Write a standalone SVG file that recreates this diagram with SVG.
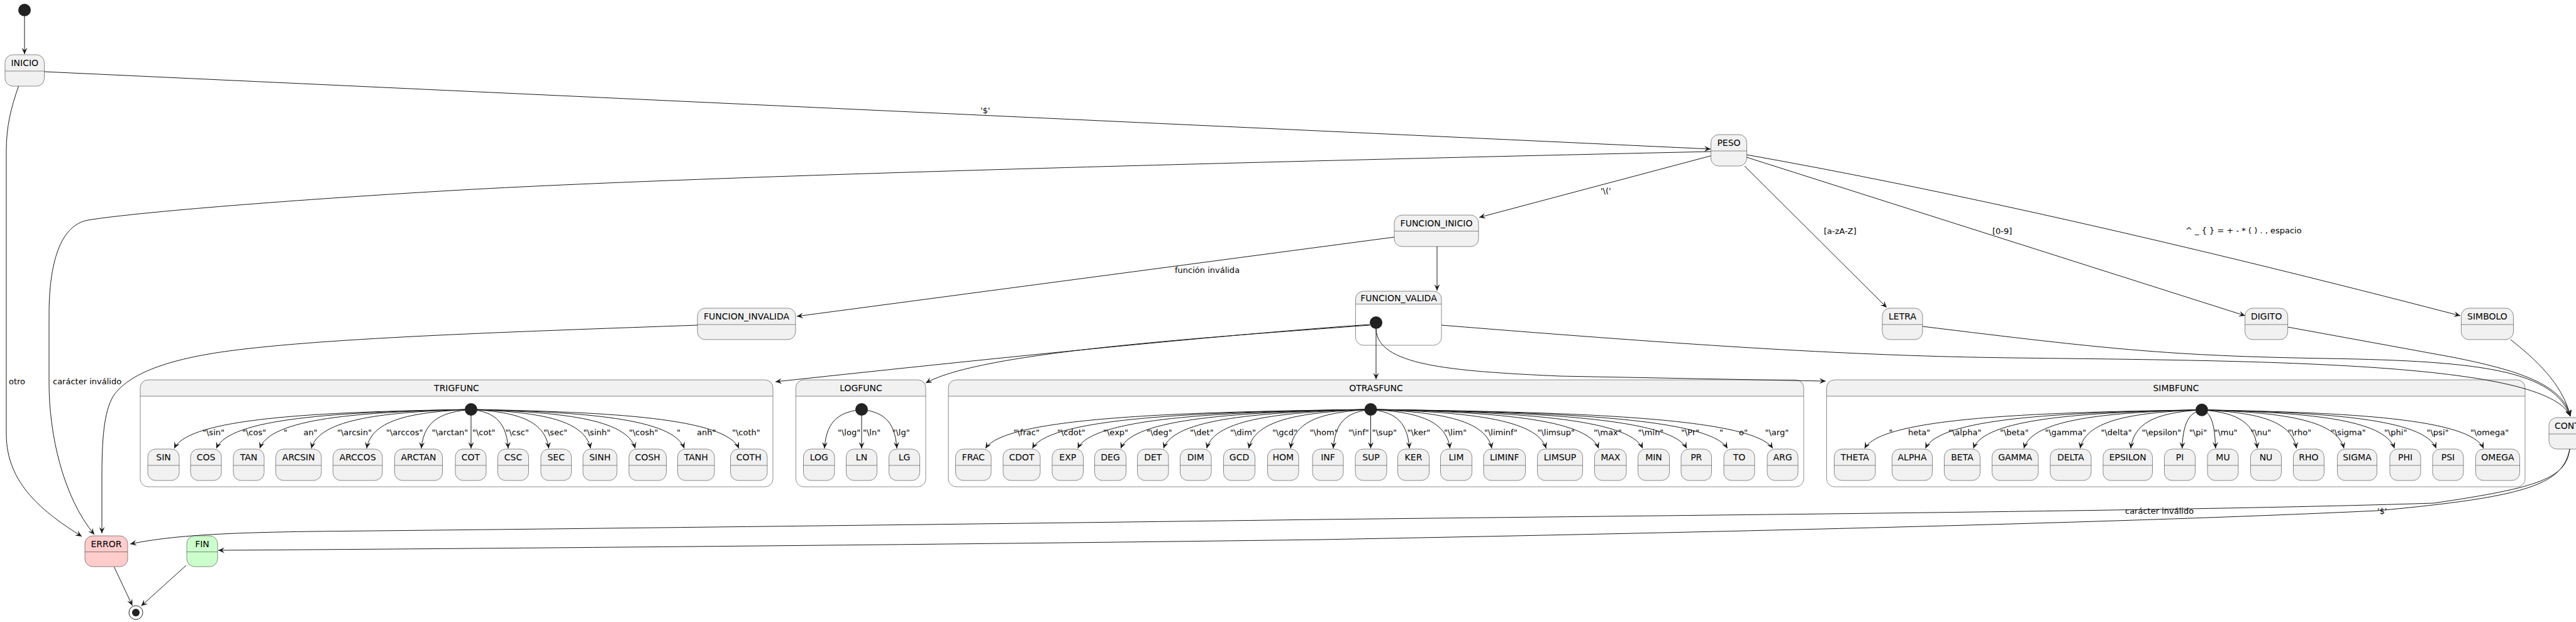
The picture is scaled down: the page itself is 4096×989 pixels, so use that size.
<svg xmlns="http://www.w3.org/2000/svg" width="4096" height="989" viewBox="0 0 4096 989">
<defs>
<style>
.st{fill:#F1F1F1;stroke:#181818;stroke-width:0.5}
.err{fill:#FFCCCC;stroke:#181818;stroke-width:0.5}
.fin{fill:#CCFFCC;stroke:#181818;stroke-width:0.5}
.sep{stroke:#181818;stroke-width:0.5;fill:none}
.cbody{fill:#FFFFFF;stroke:none}
.chdr{fill:#F1F1F1;stroke:none}
.cout{fill:none;stroke:#181818;stroke-width:0.5}
.nm{font-family:"DejaVu Sans",sans-serif;font-size:14px;text-anchor:middle;fill:#000000}
.lb{font-family:"DejaVu Sans",sans-serif;font-size:13px;fill:#000000}
.e{fill:none;stroke:#181818;stroke-width:1;marker-end:url(#ah)}
.dot{fill:#222222;stroke:none}
</style>
<marker id="ah" viewBox="0 0 10 10" refX="10" refY="5" markerWidth="10" markerHeight="10" markerUnits="userSpaceOnUse" orient="auto">
<path d="M0,0.5 L10,5 L0,9.5 L4,5 Z" fill="#181818"/>
</marker>
<clipPath id="clipCanvas"><rect x="0" y="0" width="4096" height="989"/></clipPath>
</defs>
<rect x="0" y="0" width="4096" height="989" fill="#FFFFFF"/>

<!-- composite containers -->
<g id="n-trigfunc">
<rect class="cbody" x="223" y="604" width="1006" height="170" rx="12.5"/>
<path class="chdr" d="M223,630 V616.5 Q223,604 235.5,604 H1216.5 Q1229,604 1229,616.5 V630 Z"/>
<line class="sep" x1="223" y1="630" x2="1229" y2="630"/>
<rect class="cout" x="223" y="604" width="1006" height="170" rx="12.5"/>
<text class="nm" x="726" y="622">TRIGFUNC</text>
</g>
<g id="n-logfunc">
<rect class="cbody" x="1265.5" y="604" width="206.5" height="170" rx="12.5"/>
<path class="chdr" d="M1265.5,630 V616.5 Q1265.5,604 1278,604 H1459.5 Q1472,604 1472,616.5 V630 Z"/>
<line class="sep" x1="1265.5" y1="630" x2="1472" y2="630"/>
<rect class="cout" x="1265.5" y="604" width="206.5" height="170" rx="12.5"/>
<text class="nm" x="1369" y="622">LOGFUNC</text>
</g>
<g id="n-otrasfunc">
<rect class="cbody" x="1508" y="604" width="1360" height="170" rx="12.5"/>
<path class="chdr" d="M1508,630 V616.5 Q1508,604 1520.5,604 H2855.5 Q2868,604 2868,616.5 V630 Z"/>
<line class="sep" x1="1508" y1="630" x2="2868" y2="630"/>
<rect class="cout" x="1508" y="604" width="1360" height="170" rx="12.5"/>
<text class="nm" x="2188" y="622">OTRASFUNC</text>
</g>
<g id="n-simbfunc">
<rect class="cbody" x="2904.5" y="604" width="1110.5" height="170" rx="12.5"/>
<path class="chdr" d="M2904.5,630 V616.5 Q2904.5,604 2917,604 H4002.5 Q4015,604 4015,616.5 V630 Z"/>
<line class="sep" x1="2904.5" y1="630" x2="4015" y2="630"/>
<rect class="cout" x="2904.5" y="604" width="1110.5" height="170" rx="12.5"/>
<text class="nm" x="3460" y="622">SIMBFUNC</text>
</g>
<g id="n-funcion-valida">
<rect class="cbody" x="2155.5" y="463" width="136.5" height="86" rx="12.5"/>
<path class="chdr" d="M2155.5,483.5 V475.5 Q2155.5,463 2168,463 H2279.5 Q2292,463 2292,475.5 V483.5 Z"/>
<line class="sep" x1="2155.5" y1="483.5" x2="2292" y2="483.5"/>
<rect class="cout" x="2155.5" y="463" width="136.5" height="86" rx="12.5"/>
<text class="nm" x="2224" y="478.5">FUNCION_VALIDA</text>
</g>

<!-- connectors -->
<g id="connectors">
<path class="e" d="M39,26 L39,86"/>
<path class="e" d="M70.5,114 L2720,237"/>
<path class="e" d="M29.5,137 C18,170 10,200 10,240 L10,690 C10,770 70,815 130,853"/>
<path class="e" d="M2720,241 C2000,257 1100,280 700,304 C400,322 200,340 140,350 C95,358 78,420 78,500 L78,610 C78,690 100,790 150,850"/>
<path class="e" d="M2720.5,247.7 L2352,345.7"/>
<path class="e" d="M2774,264 L3000,489"/>
<path class="e" d="M2777,250 L3570,502"/>
<path class="e" d="M2777,246 Q3250,330 3912,502"/>
<path class="e" d="M2217,377 L1267,503"/>
<path class="e" d="M2285,392 L2285,462"/>
<path class="e" d="M1109,517 C800,528 500,538 350,560 C250,575 200,600 180,630 C165,655 162,700 162,760 L162,848"/>
<path class="e" d="M2178,516 Q1900,535 1233,607"/>
<path class="e" d="M2178,517 C1900,538 1560,560 1472,609"/>
<path class="e" d="M2188,523 L2188,603"/>
<path class="e" d="M2188,523 C2190,580 2300,590 2480,598 L2903,606"/>
<path class="e" d="M2292,517 C2700,550 2950,566 3200,569 C3600,574 4050,575 4087,662"/>
<path class="e" d="M3057,519 C3350,555 3450,566 3700,570 C3950,574 4060,590 4087,662"/>
<path class="e" d="M3637.5,520 L3900,568 C4000,588 4075,610 4087,662"/>
<path class="e" d="M3992,540 C4030,570 4075,610 4087,662"/>
<path class="e" d="M4086,714 C4080,760 4040,775 3870,800 C3500,812 2800,818 2100,826 C1500,834 800,842 500,845 C350,847 270,852 207,865"/>
<path class="e" d="M4086,714 C4075,770 4020,790 3780,812 C3400,830 2800,845 2100,858 C1500,866 800,872 347,875"/>
<path class="e" d="M181.6,901.7 L210.5,963"/>
<path class="e" d="M296,899 L224.5,963.5"/>
<!-- TRIGFUNC internal -->
<path class="e" d="M749,651 C498.8,655 300.6,665 277,713"/>
<path class="e" d="M749,651 C534.3,655 364.3,665 344,713"/>
<path class="e" d="M749,651 C570.9,655 429.8,665 413,713"/>
<path class="e" d="M749,651 C614.4,655 507.7,665 495,713"/>
<path class="e" d="M749,651 C661,655 591.3,665 583,713"/>
<path class="e" d="M749,651 C707.1,655 674,665 670,713"/>
<path class="e" d="M749,651 L749,713"/>
<path class="e" d="M749,651 C780.3,655 805,665 808,713"/>
<path class="e" d="M749,651 C814.5,655 866.3,665 872.5,713"/>
<path class="e" d="M749,651 C849.7,655 929.5,665 939,713"/>
<path class="e" d="M749,651 C887.3,655 997,665 1010,713"/>
<path class="e" d="M749,651 C928.7,655 1071,665 1088,713"/>
<path class="e" d="M749,651 C974.8,655 1153.7,665 1175,713"/>
<!-- LOGFUNC internal -->
<path class="e" d="M1370,651 C1338.7,655 1314,665 1311,713"/>
<path class="e" d="M1370,651 L1370,713"/>
<path class="e" d="M1370,651 C1399.7,655 1423.2,665 1426,713"/>
<!-- OTRASFUNC internal -->
<path class="e" d="M2179.5,651 C1854.9,655 1597.6,665 1567,713"/>
<path class="e" d="M2179.5,651 C1894.4,655 1668.4,665 1641.5,713"/>
<path class="e" d="M2179.5,651 C1932.6,655 1736.9,665 1713.6,713"/>
<path class="e" d="M2179.5,651 C1968.8,655 1801.9,665 1782,713"/>
<path class="e" d="M2179.5,651 C2004.9,655 1866.5,665 1850,713"/>
<path class="e" d="M2179.5,651 C2041.3,655 1931.7,665 1918.7,713"/>
<path class="e" d="M2179.5,651 C2076.7,655 1995.3,665 1985.6,713"/>
<path class="e" d="M2179.5,651 C2111.9,655 2058.4,665 2052,713"/>
<path class="e" d="M2179.5,651 C2148,655 2123,665 2120,713"/>
<path class="e" d="M2179.5,651 L2179.5,713"/>
<path class="e" d="M2179.5,651 C2212.1,655 2237.9,665 2241,713"/>
<path class="e" d="M2179.5,651 C2246.3,655 2299.3,665 2305.6,713"/>
<path class="e" d="M2179.5,651 C2281.5,655 2362.4,665 2372,713"/>
<path class="e" d="M2179.5,651 C2327.3,655 2444.5,665 2458.4,713"/>
<path class="e" d="M2179.5,651 C2371.6,655 2523.9,665 2542,713"/>
<path class="e" d="M2179.5,651 C2408.7,655 2590.4,665 2612,713"/>
<path class="e" d="M2179.5,651 C2445.8,655 2656.9,665 2682,713"/>
<path class="e" d="M2179.5,651 C2480.1,655 2718.3,665 2746.7,713"/>
<path class="e" d="M2179.5,651 C2518.3,655 2786.8,665 2818.8,713"/>
<!-- SIMBFUNC internal -->
<path class="e" d="M3501,651.7 C3216.8,655.7 2991.6,665.7 2964.8,713"/>
<path class="e" d="M3501,651.7 C3268.1,655.7 3083.5,665.7 3061.5,713"/>
<path class="e" d="M3501,651.7 C3308.4,655.7 3155.9,665.7 3137.7,713"/>
<path class="e" d="M3501,651.7 C3351,655.7 3232.2,665.7 3218,713"/>
<path class="e" d="M3501,651.7 C3398.4,655.7 3317.2,665.7 3307.5,713"/>
<path class="e" d="M3501,651.7 C3441.1,655.7 3393.7,665.7 3388,713"/>
<path class="e" d="M3501,651.7 C3484.4,655.7 3471.3,665.7 3469.7,713"/>
<path class="e" d="M3501,651.7 C3512.6,655.7 3521.7,665.7 3522.8,713"/>
<path class="e" d="M3501,651.7 C3547.7,655.7 3584.8,665.7 3589.2,713"/>
<path class="e" d="M3501,651.7 C3580.7,655.7 3643.9,665.7 3651.4,713"/>
<path class="e" d="M3501,651.7 C3620.8,655.7 3715.7,665.7 3727,713"/>
<path class="e" d="M3501,651.7 C3663.3,655.7 3792,665.7 3807.3,713"/>
<path class="e" d="M3501,651.7 C3698.5,655.7 3855.1,665.7 3873.7,713"/>
<path class="e" d="M3501,651.7 C3738.5,655.7 3926.8,665.7 3949.2,713"/>

<g id="edge-labels">
<text class="lb" x="1559" y="180">'$'</text>
<text class="lb" x="2545" y="308">'\('</text>
<text class="lb" x="1868" y="434">función inválida</text>
<text class="lb" x="2900" y="372">[a-zA-Z]</text>
<text class="lb" x="3168" y="372">[0-9]</text>
<text class="lb" x="3475" y="371">^ _ { } = + - * ( ) . , espacio</text>
<text class="lb" x="14" y="611">otro</text>
<text class="lb" x="84" y="611">carácter inválido</text>
<text class="lb" x="3379" y="817">carácter inválido</text>
<text class="lb" x="3780" y="817">'$'</text>
<text class="lb" x="322" y="692">"\sin"</text>
<text class="lb" x="385" y="692">"\cos"</text>
<text class="lb" x="451" y="692">"<tspan x="482.5">an"</tspan></text>
<text class="lb" x="536" y="692">"\arcsin"</text>
<text class="lb" x="614" y="692">"\arccos"</text>
<text class="lb" x="686.5" y="692">"\arctan"</text>
<text class="lb" x="751" y="692">"\cot"</text>
<text class="lb" x="803.5" y="692">"\csc"</text>
<text class="lb" x="864" y="692">"\sec"</text>
<text class="lb" x="927.5" y="692">"\sinh"</text>
<text class="lb" x="1000" y="692">"\cosh"</text>
<text class="lb" x="1076" y="692">"<tspan x="1108">anh"</tspan></text>
<text class="lb" x="1164" y="692">"\coth"</text>
<text class="lb" x="1332" y="692">"\log"</text>
<text class="lb" x="1372" y="692">"\ln"</text>
<text class="lb" x="1418.5" y="692">"\lg"</text>
<text class="lb" x="1611.5" y="692">"\frac"</text>
<text class="lb" x="1681" y="692">"\cdot"</text>
<text class="lb" x="1754" y="692">"\exp"</text>
<text class="lb" x="1823" y="692">"\deg"</text>
<text class="lb" x="1892" y="692">"\det"</text>
<text class="lb" x="1956" y="692">"\dim"</text>
<text class="lb" x="2023" y="692">"\gcd"</text>
<text class="lb" x="2082.5" y="692">"\hom"</text>
<text class="lb" x="2144" y="692">"\inf"</text>
<text class="lb" x="2181.5" y="692">"\sup"</text>
<text class="lb" x="2237.5" y="692">"\ker"</text>
<text class="lb" x="2296" y="692">"\lim"</text>
<text class="lb" x="2360" y="692">"\liminf"</text>
<text class="lb" x="2444.5" y="692">"\limsup"</text>
<text class="lb" x="2534" y="692">"\max"</text>
<text class="lb" x="2604.5" y="692">"\min"</text>
<text class="lb" x="2673" y="692">"\Pr"</text>
<text class="lb" x="2734" y="692">"<tspan x="2765">o"</tspan></text>
<text class="lb" x="2806.5" y="692">"\arg"</text>
<text class="lb" x="3003.5" y="692">"<tspan x="3034">heta"</tspan></text>
<text class="lb" x="3098" y="692">"\alpha"</text>
<text class="lb" x="3180" y="692">"\beta"</text>
<text class="lb" x="3251.5" y="692">"\gamma"</text>
<text class="lb" x="3340.5" y="692">"\delta"</text>
<text class="lb" x="3405.5" y="692">"\epsilon"</text>
<text class="lb" x="3481" y="692">"\pi"</text>
<text class="lb" x="3520.5" y="692">"\mu"</text>
<text class="lb" x="3578.5" y="692">"\nu"</text>
<text class="lb" x="3637.5" y="692">"\rho"</text>
<text class="lb" x="3706" y="692">"\sigma"</text>
<text class="lb" x="3791" y="692">"\phi"</text>
<text class="lb" x="3858.5" y="692">"\psi"</text>
<text class="lb" x="3928" y="692">"\omega"</text>
</g>
</g>

<!-- pseudo states -->
<g id="n-start"><circle class="dot" cx="39" cy="16" r="10"/></g>
<g id="n-fv-start"><circle class="dot" cx="2188" cy="513" r="10"/></g>
<g id="n-trig-start"><circle class="dot" cx="749" cy="651" r="10"/></g>
<g id="n-log-start"><circle class="dot" cx="1370" cy="651" r="10"/></g>
<g id="n-otras-start"><circle class="dot" cx="2179.5" cy="651" r="10"/></g>
<g id="n-simb-start"><circle class="dot" cx="3501" cy="651.7" r="10"/></g>
<g id="n-end"><circle cx="216" cy="974" r="11" fill="#FFFFFF" stroke="#222222" stroke-width="1"/><circle class="dot" cx="216" cy="974" r="6"/></g>

<!-- simple states -->
<g id="n-inicio"><rect class="st" x="8" y="87" width="62.5" height="50" rx="12.5"/><line class="sep" x1="8" y1="113" x2="70.5" y2="113"/><text class="nm" x="39.25" y="105">INICIO</text></g>
<g id="n-peso"><rect class="st" x="2720.5" y="214" width="57" height="50" rx="12.5"/><line class="sep" x1="2720.5" y1="240" x2="2777.5" y2="240"/><text class="nm" x="2749" y="232">PESO</text></g>
<g id="n-funcion-inicio"><rect class="st" x="2217" y="342" width="134" height="50" rx="12.5"/><line class="sep" x1="2217" y1="367.5" x2="2351" y2="367.5"/><text class="nm" x="2284" y="360">FUNCION_INICIO</text></g>
<g id="n-funcion-invalida"><rect class="st" x="1109" y="490" width="156" height="50" rx="12.5"/><line class="sep" x1="1109" y1="516" x2="1265" y2="516"/><text class="nm" x="1187" y="508">FUNCION_INVALIDA</text></g>
<g id="n-letra"><rect class="st" x="2993" y="490" width="64" height="50" rx="12.5"/><line class="sep" x1="2993" y1="516" x2="3057" y2="516"/><text class="nm" x="3025" y="508">LETRA</text></g>
<g id="n-digito"><rect class="st" x="3569.7" y="490" width="68" height="50" rx="12.5"/><line class="sep" x1="3569.7" y1="516" x2="3637.7" y2="516"/><text class="nm" x="3603.7" y="508">DIGITO</text></g>
<g id="n-simbolo"><rect class="st" x="3913.5" y="490" width="83" height="50" rx="12.5"/><line class="sep" x1="3913.5" y1="516" x2="3996.5" y2="516"/><text class="nm" x="3955" y="508">SIMBOLO</text></g>
<g id="n-cont" clip-path="url(#clipCanvas)"><rect class="st" x="4053" y="664" width="90" height="50" rx="12.5"/><line class="sep" x1="4053" y1="690" x2="4143" y2="690"/><text class="nm" x="4062" y="682" style="text-anchor:start">CONT</text></g>
<g id="n-error"><rect class="err" x="135" y="852" width="68" height="49" rx="12.5"/><line class="sep" x1="135" y1="877.5" x2="203" y2="877.5"/><text class="nm" x="169" y="870">ERROR</text></g>
<g id="n-fin"><rect class="fin" x="297" y="852" width="49" height="49" rx="12.5"/><line class="sep" x1="297" y1="877.5" x2="346" y2="877.5"/><text class="nm" x="321.5" y="870">FIN</text></g>

<!-- TRIGFUNC states -->
<g id="n-sin"><rect class="st" x="235" y="714" width="50" height="50" rx="12.5"/><line class="sep" x1="235" y1="740" x2="285" y2="740"/><text class="nm" x="260" y="732">SIN</text></g>
<g id="n-cos"><rect class="st" x="303" y="714" width="49" height="50" rx="12.5"/><line class="sep" x1="303" y1="740" x2="352" y2="740"/><text class="nm" x="327.5" y="732">COS</text></g>
<g id="n-tan"><rect class="st" x="371" y="714" width="49" height="50" rx="12.5"/><line class="sep" x1="371" y1="740" x2="420" y2="740"/><text class="nm" x="395.5" y="732">TAN</text></g>
<g id="n-arcsin"><rect class="st" x="438.5" y="714" width="72.5" height="50" rx="12.5"/><line class="sep" x1="438.5" y1="740" x2="511" y2="740"/><text class="nm" x="474.75" y="732">ARCSIN</text></g>
<g id="n-arccos"><rect class="st" x="529.5" y="714" width="78.5" height="50" rx="12.5"/><line class="sep" x1="529.5" y1="740" x2="608" y2="740"/><text class="nm" x="568.75" y="732">ARCCOS</text></g>
<g id="n-arctan"><rect class="st" x="627.5" y="714" width="76" height="50" rx="12.5"/><line class="sep" x1="627.5" y1="740" x2="703.5" y2="740"/><text class="nm" x="665.5" y="732">ARCTAN</text></g>
<g id="n-cot"><rect class="st" x="724" y="714" width="49" height="50" rx="12.5"/><line class="sep" x1="724" y1="740" x2="773" y2="740"/><text class="nm" x="748.5" y="732">COT</text></g>
<g id="n-csc"><rect class="st" x="791.5" y="714" width="49" height="50" rx="12.5"/><line class="sep" x1="791.5" y1="740" x2="840.5" y2="740"/><text class="nm" x="816" y="732">CSC</text></g>
<g id="n-sec"><rect class="st" x="860" y="714" width="48.5" height="50" rx="12.5"/><line class="sep" x1="860" y1="740" x2="908.5" y2="740"/><text class="nm" x="884.25" y="732">SEC</text></g>
<g id="n-sinh"><rect class="st" x="927" y="714" width="54" height="50" rx="12.5"/><line class="sep" x1="927" y1="740" x2="981" y2="740"/><text class="nm" x="954" y="732">SINH</text></g>
<g id="n-cosh"><rect class="st" x="1000" y="714" width="59.5" height="50" rx="12.5"/><line class="sep" x1="1000" y1="740" x2="1059.5" y2="740"/><text class="nm" x="1029.75" y="732">COSH</text></g>
<g id="n-tanh"><rect class="st" x="1077.5" y="714" width="58.5" height="50" rx="12.5"/><line class="sep" x1="1077.5" y1="740" x2="1136" y2="740"/><text class="nm" x="1106.75" y="732">TANH</text></g>
<g id="n-coth"><rect class="st" x="1161.5" y="714" width="58.5" height="50" rx="12.5"/><line class="sep" x1="1161.5" y1="740" x2="1220" y2="740"/><text class="nm" x="1190.75" y="732">COTH</text></g>

<!-- LOGFUNC states -->
<g id="n-log"><rect class="st" x="1277.5" y="714" width="49.5" height="50" rx="12.5"/><line class="sep" x1="1277.5" y1="740" x2="1327" y2="740"/><text class="nm" x="1302.25" y="732">LOG</text></g>
<g id="n-ln"><rect class="st" x="1345.5" y="714" width="49" height="50" rx="12.5"/><line class="sep" x1="1345.5" y1="740" x2="1394.5" y2="740"/><text class="nm" x="1370" y="732">LN</text></g>
<g id="n-lg"><rect class="st" x="1413.5" y="714" width="49" height="50" rx="12.5"/><line class="sep" x1="1413.5" y1="740" x2="1462.5" y2="740"/><text class="nm" x="1438" y="732">LG</text></g>

<!-- OTRASFUNC states -->
<g id="n-frac"><rect class="st" x="1519.5" y="714" width="56.5" height="50" rx="12.5"/><line class="sep" x1="1519.5" y1="740" x2="1576" y2="740"/><text class="nm" x="1547.75" y="732">FRAC</text></g>
<g id="n-cdot"><rect class="st" x="1595" y="714" width="59" height="50" rx="12.5"/><line class="sep" x1="1595" y1="740" x2="1654" y2="740"/><text class="nm" x="1624.5" y="732">CDOT</text></g>
<g id="n-exp"><rect class="st" x="1673" y="714" width="49.5" height="50" rx="12.5"/><line class="sep" x1="1673" y1="740" x2="1722.5" y2="740"/><text class="nm" x="1697.75" y="732">EXP</text></g>
<g id="n-deg"><rect class="st" x="1740.5" y="714" width="50" height="50" rx="12.5"/><line class="sep" x1="1740.5" y1="740" x2="1790.5" y2="740"/><text class="nm" x="1765.5" y="732">DEG</text></g>
<g id="n-det"><rect class="st" x="1808.5" y="714" width="49.5" height="50" rx="12.5"/><line class="sep" x1="1808.5" y1="740" x2="1858" y2="740"/><text class="nm" x="1833.25" y="732">DET</text></g>
<g id="n-dim"><rect class="st" x="1876.5" y="714" width="49.5" height="50" rx="12.5"/><line class="sep" x1="1876.5" y1="740" x2="1926" y2="740"/><text class="nm" x="1901.25" y="732">DIM</text></g>
<g id="n-gcd"><rect class="st" x="1945.5" y="714" width="50" height="50" rx="12.5"/><line class="sep" x1="1945.5" y1="740" x2="1995.5" y2="740"/><text class="nm" x="1970.5" y="732">GCD</text></g>
<g id="n-hom"><rect class="st" x="2015.5" y="714" width="49.5" height="50" rx="12.5"/><line class="sep" x1="2015.5" y1="740" x2="2065" y2="740"/><text class="nm" x="2040.25" y="732">HOM</text></g>
<g id="n-inf"><rect class="st" x="2087" y="714" width="49" height="50" rx="12.5"/><line class="sep" x1="2087" y1="740" x2="2136" y2="740"/><text class="nm" x="2111.5" y="732">INF</text></g>
<g id="n-sup"><rect class="st" x="2155" y="714" width="50" height="50" rx="12.5"/><line class="sep" x1="2155" y1="740" x2="2205" y2="740"/><text class="nm" x="2180" y="732">SUP</text></g>
<g id="n-ker"><rect class="st" x="2222.5" y="714" width="50" height="50" rx="12.5"/><line class="sep" x1="2222.5" y1="740" x2="2272.5" y2="740"/><text class="nm" x="2247.5" y="732">KER</text></g>
<g id="n-lim"><rect class="st" x="2290.5" y="714" width="50" height="50" rx="12.5"/><line class="sep" x1="2290.5" y1="740" x2="2340.5" y2="740"/><text class="nm" x="2315.5" y="732">LIM</text></g>
<g id="n-liminf"><rect class="st" x="2359" y="714" width="66.5" height="50" rx="12.5"/><line class="sep" x1="2359" y1="740" x2="2425.5" y2="740"/><text class="nm" x="2392.25" y="732">LIMINF</text></g>
<g id="n-limsup"><rect class="st" x="2444.5" y="714" width="72" height="50" rx="12.5"/><line class="sep" x1="2444.5" y1="740" x2="2516.5" y2="740"/><text class="nm" x="2480.5" y="732">LIMSUP</text></g>
<g id="n-max"><rect class="st" x="2535.5" y="714" width="50.5" height="50" rx="12.5"/><line class="sep" x1="2535.5" y1="740" x2="2586" y2="740"/><text class="nm" x="2560.75" y="732">MAX</text></g>
<g id="n-min"><rect class="st" x="2604.5" y="714" width="50" height="50" rx="12.5"/><line class="sep" x1="2604.5" y1="740" x2="2654.5" y2="740"/><text class="nm" x="2629.5" y="732">MIN</text></g>
<g id="n-pr"><rect class="st" x="2673" y="714" width="48.5" height="50" rx="12.5"/><line class="sep" x1="2673" y1="740" x2="2721.5" y2="740"/><text class="nm" x="2697.25" y="732">PR</text></g>
<g id="n-to"><rect class="st" x="2741" y="714" width="49" height="50" rx="12.5"/><line class="sep" x1="2741" y1="740" x2="2790" y2="740"/><text class="nm" x="2765.5" y="732">TO</text></g>
<g id="n-arg"><rect class="st" x="2810" y="714" width="49" height="50" rx="12.5"/><line class="sep" x1="2810" y1="740" x2="2859" y2="740"/><text class="nm" x="2834.5" y="732">ARG</text></g>

<!-- SIMBFUNC states -->
<g id="n-theta"><rect class="st" x="2916.5" y="714" width="65.5" height="50" rx="12.5"/><line class="sep" x1="2916.5" y1="740" x2="2982" y2="740"/><text class="nm" x="2949.25" y="732">THETA</text></g>
<g id="n-alpha"><rect class="st" x="3008.5" y="714" width="64" height="50" rx="12.5"/><line class="sep" x1="3008.5" y1="740" x2="3072.5" y2="740"/><text class="nm" x="3040.5" y="732">ALPHA</text></g>
<g id="n-beta"><rect class="st" x="3091.5" y="714" width="57" height="50" rx="12.5"/><line class="sep" x1="3091.5" y1="740" x2="3148.5" y2="740"/><text class="nm" x="3120" y="732">BETA</text></g>
<g id="n-gamma"><rect class="st" x="3167.5" y="714" width="73.5" height="50" rx="12.5"/><line class="sep" x1="3167.5" y1="740" x2="3241" y2="740"/><text class="nm" x="3204.25" y="732">GAMMA</text></g>
<g id="n-delta"><rect class="st" x="3260" y="714" width="65" height="50" rx="12.5"/><line class="sep" x1="3260" y1="740" x2="3325" y2="740"/><text class="nm" x="3292.5" y="732">DELTA</text></g>
<g id="n-epsilon"><rect class="st" x="3344" y="714" width="78.5" height="50" rx="12.5"/><line class="sep" x1="3344" y1="740" x2="3422.5" y2="740"/><text class="nm" x="3383.25" y="732">EPSILON</text></g>
<g id="n-pi"><rect class="st" x="3441.5" y="714" width="49" height="50" rx="12.5"/><line class="sep" x1="3441.5" y1="740" x2="3490.5" y2="740"/><text class="nm" x="3466" y="732">PI</text></g>
<g id="n-mu"><rect class="st" x="3510" y="714" width="49" height="50" rx="12.5"/><line class="sep" x1="3510" y1="740" x2="3559" y2="740"/><text class="nm" x="3534.5" y="732">MU</text></g>
<g id="n-nu"><rect class="st" x="3578.5" y="714" width="49" height="50" rx="12.5"/><line class="sep" x1="3578.5" y1="740" x2="3627.5" y2="740"/><text class="nm" x="3603" y="732">NU</text></g>
<g id="n-rho"><rect class="st" x="3646.5" y="714" width="49" height="50" rx="12.5"/><line class="sep" x1="3646.5" y1="740" x2="3695.5" y2="740"/><text class="nm" x="3671" y="732">RHO</text></g>
<g id="n-sigma"><rect class="st" x="3716.5" y="714" width="63" height="50" rx="12.5"/><line class="sep" x1="3716.5" y1="740" x2="3779.5" y2="740"/><text class="nm" x="3748" y="732">SIGMA</text></g>
<g id="n-phi"><rect class="st" x="3800" y="714" width="49" height="50" rx="12.5"/><line class="sep" x1="3800" y1="740" x2="3849" y2="740"/><text class="nm" x="3824.5" y="732">PHI</text></g>
<g id="n-psi"><rect class="st" x="3868" y="714" width="49" height="50" rx="12.5"/><line class="sep" x1="3868" y1="740" x2="3917" y2="740"/><text class="nm" x="3892.5" y="732">PSI</text></g>
<g id="n-omega"><rect class="st" x="3936.5" y="714" width="70" height="50" rx="12.5"/><line class="sep" x1="3936.5" y1="740" x2="4006.5" y2="740"/><text class="nm" x="3971.5" y="732">OMEGA</text></g>
</svg>
